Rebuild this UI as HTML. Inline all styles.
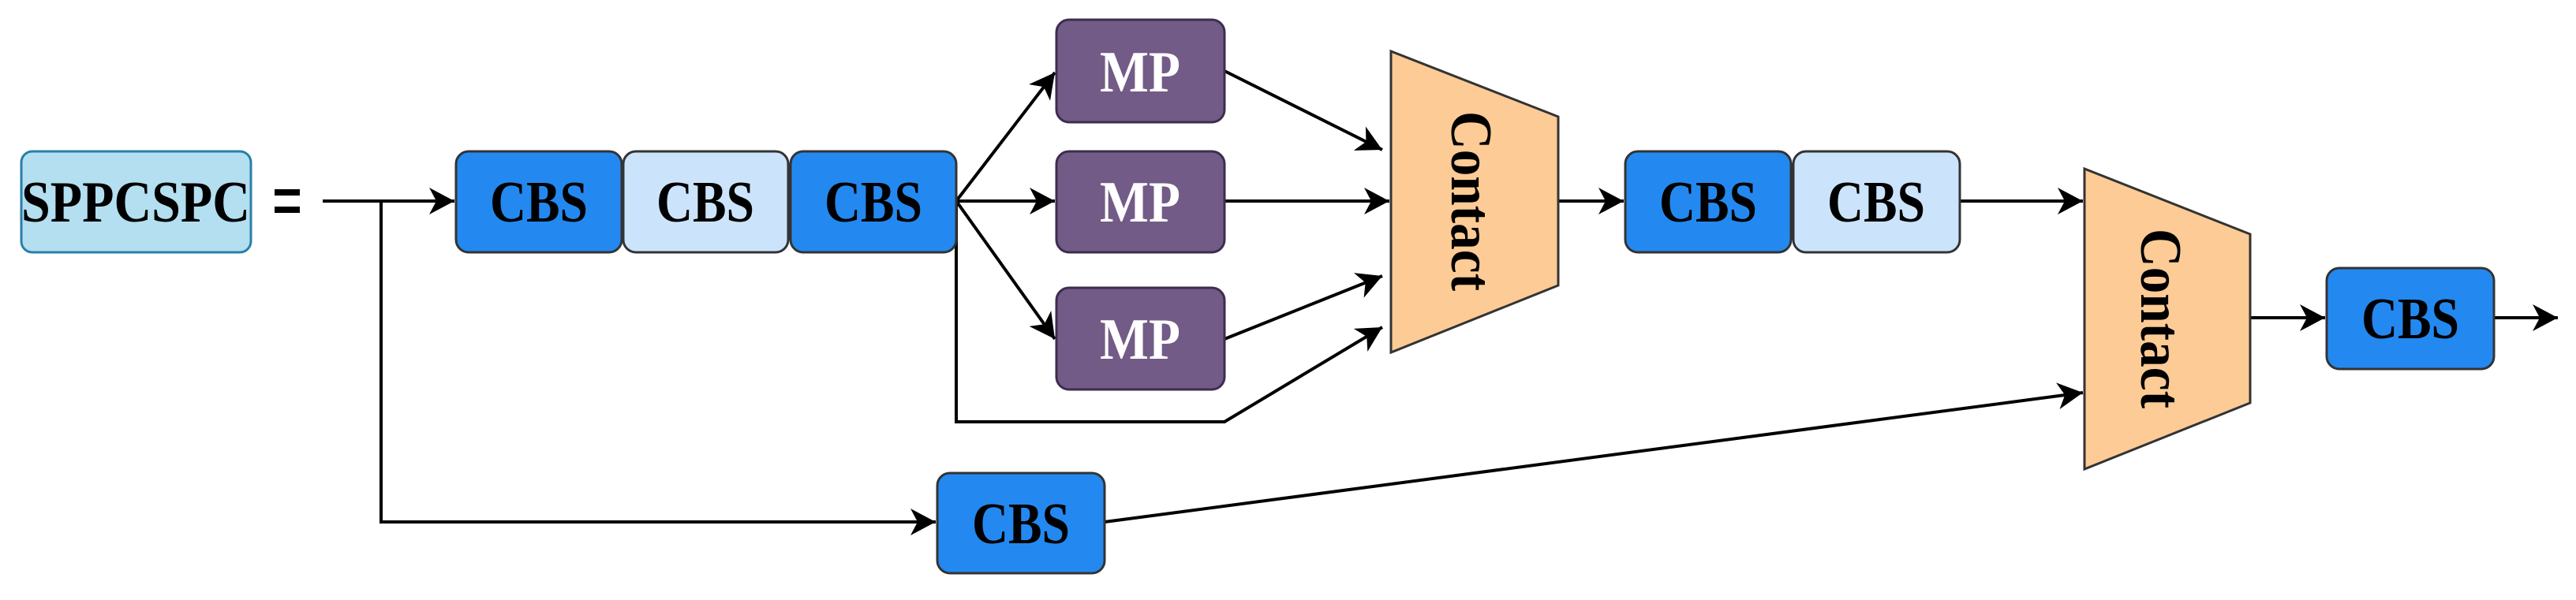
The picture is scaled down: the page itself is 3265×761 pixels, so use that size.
<!DOCTYPE html>
<html><head><meta charset="utf-8"><style>html,body{margin:0;padding:0;background:#fff}svg{display:block}text{font-family:"Liberation Serif",serif;font-weight:bold}</style></head>
<body>
<svg width="3265" height="761" viewBox="0 0 3265 761" xmlns="http://www.w3.org/2000/svg">
<defs>
<marker id="a" markerUnits="userSpaceOnUse" markerWidth="44" markerHeight="44" refX="32" refY="22" orient="auto">
<path d="M0,5 L32,22 L0,39 L9,22 Z" fill="#000"/>
</marker>
</defs>
<g style="font-family:'Liberation Serif',serif;font-weight:bold" font-size="74" text-anchor="middle">
<rect x="27" y="192" width="291" height="128" rx="14" fill="#b3dff0" stroke="#2a7fa8" stroke-width="3"/>
<text x="172" y="281" textLength="290" lengthAdjust="spacingAndGlyphs">SPPCSPC</text>
<rect x="348" y="240" width="32" height="8" fill="#000"/>
<rect x="348" y="262" width="32" height="8" fill="#000"/>

<g stroke="#000" stroke-width="4" fill="none">
<line x1="409" y1="255" x2="576" y2="255" marker-end="url(#a)"/>
<polyline points="483,255 483,662 1186,662" marker-end="url(#a)"/>
<line x1="1212" y1="255" x2="1337" y2="92" marker-end="url(#a)"/>
<line x1="1212" y1="255" x2="1337" y2="255" marker-end="url(#a)"/>
<line x1="1212" y1="255" x2="1337" y2="430" marker-end="url(#a)"/>
<polyline points="1212,255 1212,535 1552,535 1752,415" marker-end="url(#a)"/>
<line x1="1552" y1="90" x2="1752" y2="190" marker-end="url(#a)"/>
<line x1="1552" y1="255" x2="1761" y2="255" marker-end="url(#a)"/>
<line x1="1552" y1="430" x2="1752" y2="350" marker-end="url(#a)"/>
<line x1="1975" y1="255" x2="2058" y2="255" marker-end="url(#a)"/>
<line x1="2484" y1="255" x2="2640" y2="255" marker-end="url(#a)"/>
<line x1="1400" y1="662" x2="2640" y2="498" marker-end="url(#a)"/>
<line x1="2852" y1="403" x2="2947" y2="403" marker-end="url(#a)"/>
<line x1="3161" y1="403" x2="3242" y2="403" marker-end="url(#a)"/>
</g>

<g stroke="#333" stroke-width="3">
<rect x="578" y="192" width="210" height="128" rx="16" fill="#2389f0"/>
<rect x="790" y="192" width="209" height="128" rx="16" fill="#cce4fb"/>
<rect x="1002" y="192" width="210" height="128" rx="16" fill="#2389f0"/>
<rect x="1188" y="600" width="212" height="127" rx="16" fill="#2389f0"/>
<rect x="2060" y="192" width="210" height="128" rx="16" fill="#2389f0"/>
<rect x="2273" y="192" width="211" height="128" rx="16" fill="#cce4fb"/>
<rect x="2949" y="340" width="212" height="128" rx="16" fill="#2389f0"/>
<rect x="1339" y="25" width="213" height="130" rx="16" fill="#735b87" stroke="#3d2d4d"/>
<rect x="1339" y="192" width="213" height="128" rx="16" fill="#735b87" stroke="#3d2d4d"/>
<rect x="1339" y="365" width="213" height="129" rx="16" fill="#735b87" stroke="#3d2d4d"/>
<polygon points="1763,65 1975,148 1975,362 1763,447" fill="#fccb96"/>
<polygon points="2642,214 2852,297 2852,511 2642,595" fill="#fccb96"/>
</g>

<g fill="#000">
<text x="683" y="281" textLength="124" lengthAdjust="spacingAndGlyphs">CBS</text>
<text x="894" y="281" textLength="124" lengthAdjust="spacingAndGlyphs">CBS</text>
<text x="1107" y="281" textLength="124" lengthAdjust="spacingAndGlyphs">CBS</text>
<text x="1294" y="689" textLength="124" lengthAdjust="spacingAndGlyphs">CBS</text>
<text x="2165" y="281" textLength="124" lengthAdjust="spacingAndGlyphs">CBS</text>
<text x="2378" y="281" textLength="124" lengthAdjust="spacingAndGlyphs">CBS</text>
<text x="3055" y="429" textLength="124" lengthAdjust="spacingAndGlyphs">CBS</text>
<text transform="translate(1840,255) rotate(90)" textLength="228" lengthAdjust="spacingAndGlyphs">Contact</text>
<text transform="translate(2714,404) rotate(90)" textLength="228" lengthAdjust="spacingAndGlyphs">Contact</text>
</g>
<g fill="#fff">
<text x="1445" y="116" textLength="102" lengthAdjust="spacingAndGlyphs">MP</text>
<text x="1445" y="281" textLength="102" lengthAdjust="spacingAndGlyphs">MP</text>
<text x="1445" y="455" textLength="102" lengthAdjust="spacingAndGlyphs">MP</text>
</g>
</g>
</svg>
</body></html>
